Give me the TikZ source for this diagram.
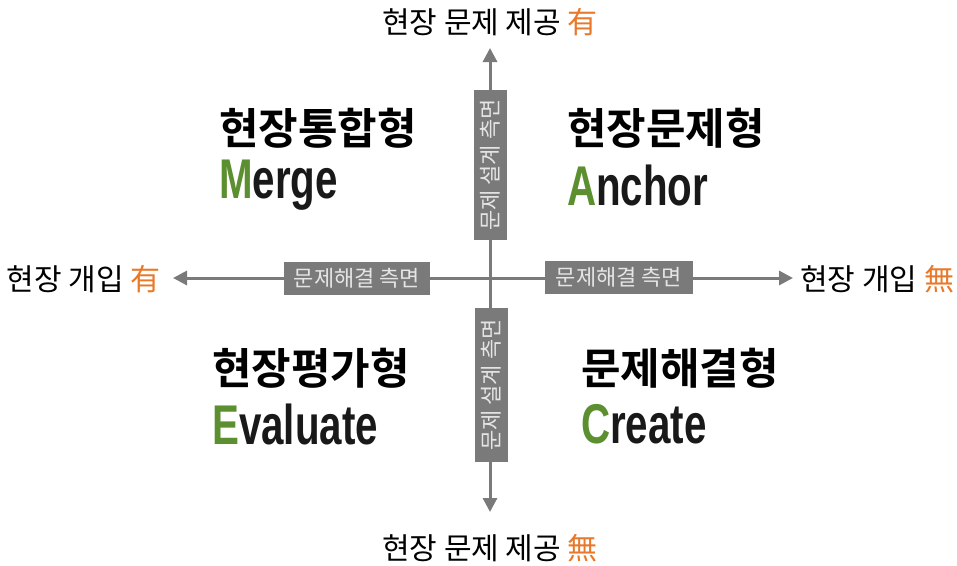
\documentclass[tikz,border=0pt]{standalone}
\usepackage{fontspec}
\setmainfont{Noto Sans CJK KR}
\newfontfamily\krbold{Noto Sans CJK KR Bold}
\newfontfamily\engbold{Liberation Sans Bold}
\usetikzlibrary{arrows.meta}
\definecolor{axisgray}{HTML}{7A7A7A}
\definecolor{tagorange}{HTML}{E8792A}
\definecolor{capgreen}{HTML}{5B8F2F}
\tikzset{
  axis/.style={draw=axisgray, line width=3pt, -{Triangle[length=14pt,width=14pt]}},
  sidebox/.style={fill=axisgray, text=white!90!black, font=\fontsize{22}{22}\selectfont,
    inner xsep=6pt, inner ysep=5pt, minimum height=33pt},
  endlabel/.style={font=\fontsize{30}{30}\selectfont, text=black, inner sep=0pt},
  kortitle/.style={anchor=west, font=\krbold\fontsize{43}{43}\selectfont, inner sep=0pt},
  engtitle/.style={anchor=west, font=\engbold\fontsize{56}{56}\selectfont, inner sep=0pt, xscale=0.72, text=black!90}
}
\newcommand{\initial}[1]{\textcolor{capgreen}{#1}}
\begin{document}
\begin{tikzpicture}[x=1pt,y=-1pt]
\useasboundingbox (0,0) rectangle (957,565);
% axes
\coordinate (center) at (490,278);
\coordinate (top) at (490,48);
\coordinate (bottom) at (490,512);
\coordinate (left) at (173,278);
\coordinate (right) at (793,278);
\draw[axis] (center) -- (top);
\draw[axis] (center) -- (bottom);
\draw[axis] (center) -- (left);
\draw[axis] (center) -- (right);

% labels on the axes
\node[sidebox, rotate=90, minimum width=150pt] (designtop) at (490,165) {문제 설계 측면};
\node[sidebox, rotate=90, minimum width=154pt] (designbottom) at (491,385) {문제 설계 측면};
\node[sidebox, minimum width=146pt] (solveleft) at (357,278) {문제해결 측면};
\node[sidebox, minimum width=148pt] (solveright) at (619,277) {문제해결 측면};

% axis ends
\node[endlabel] (topend) at (490,22) {현장 문제 제공 \textcolor{tagorange}{有}};
\node[endlabel] (bottomend) at (490,548) {현장 문제 제공 \textcolor{tagorange}{無}};
\node[endlabel, anchor=east] (leftend) at (161,279) {현장 개입 \textcolor{tagorange}{有}};
\node[endlabel, anchor=west] (rightend) at (800,279) {현장 개입 \textcolor{tagorange}{無}};

% quadrants
\node[kortitle] (mergekr) at (219,128) {현장통합형};
\node[engtitle] (mergeen) at (219,185) {\initial{M}erge};
\node[kortitle] (anchorkr) at (567,128) {현장문제형};
\node[engtitle] (anchoren) at (567,185) {\initial{A}nchor};
\node[kortitle] (evalkr) at (212,368) {현장평가형};
\node[engtitle] (evalen) at (212,424) {\initial{E}valuate};
\node[kortitle] (createkr) at (581,368) {문제해결형};
\node[engtitle] (createen) at (581,424) {\initial{C}reate};
\end{tikzpicture}
\end{document}
